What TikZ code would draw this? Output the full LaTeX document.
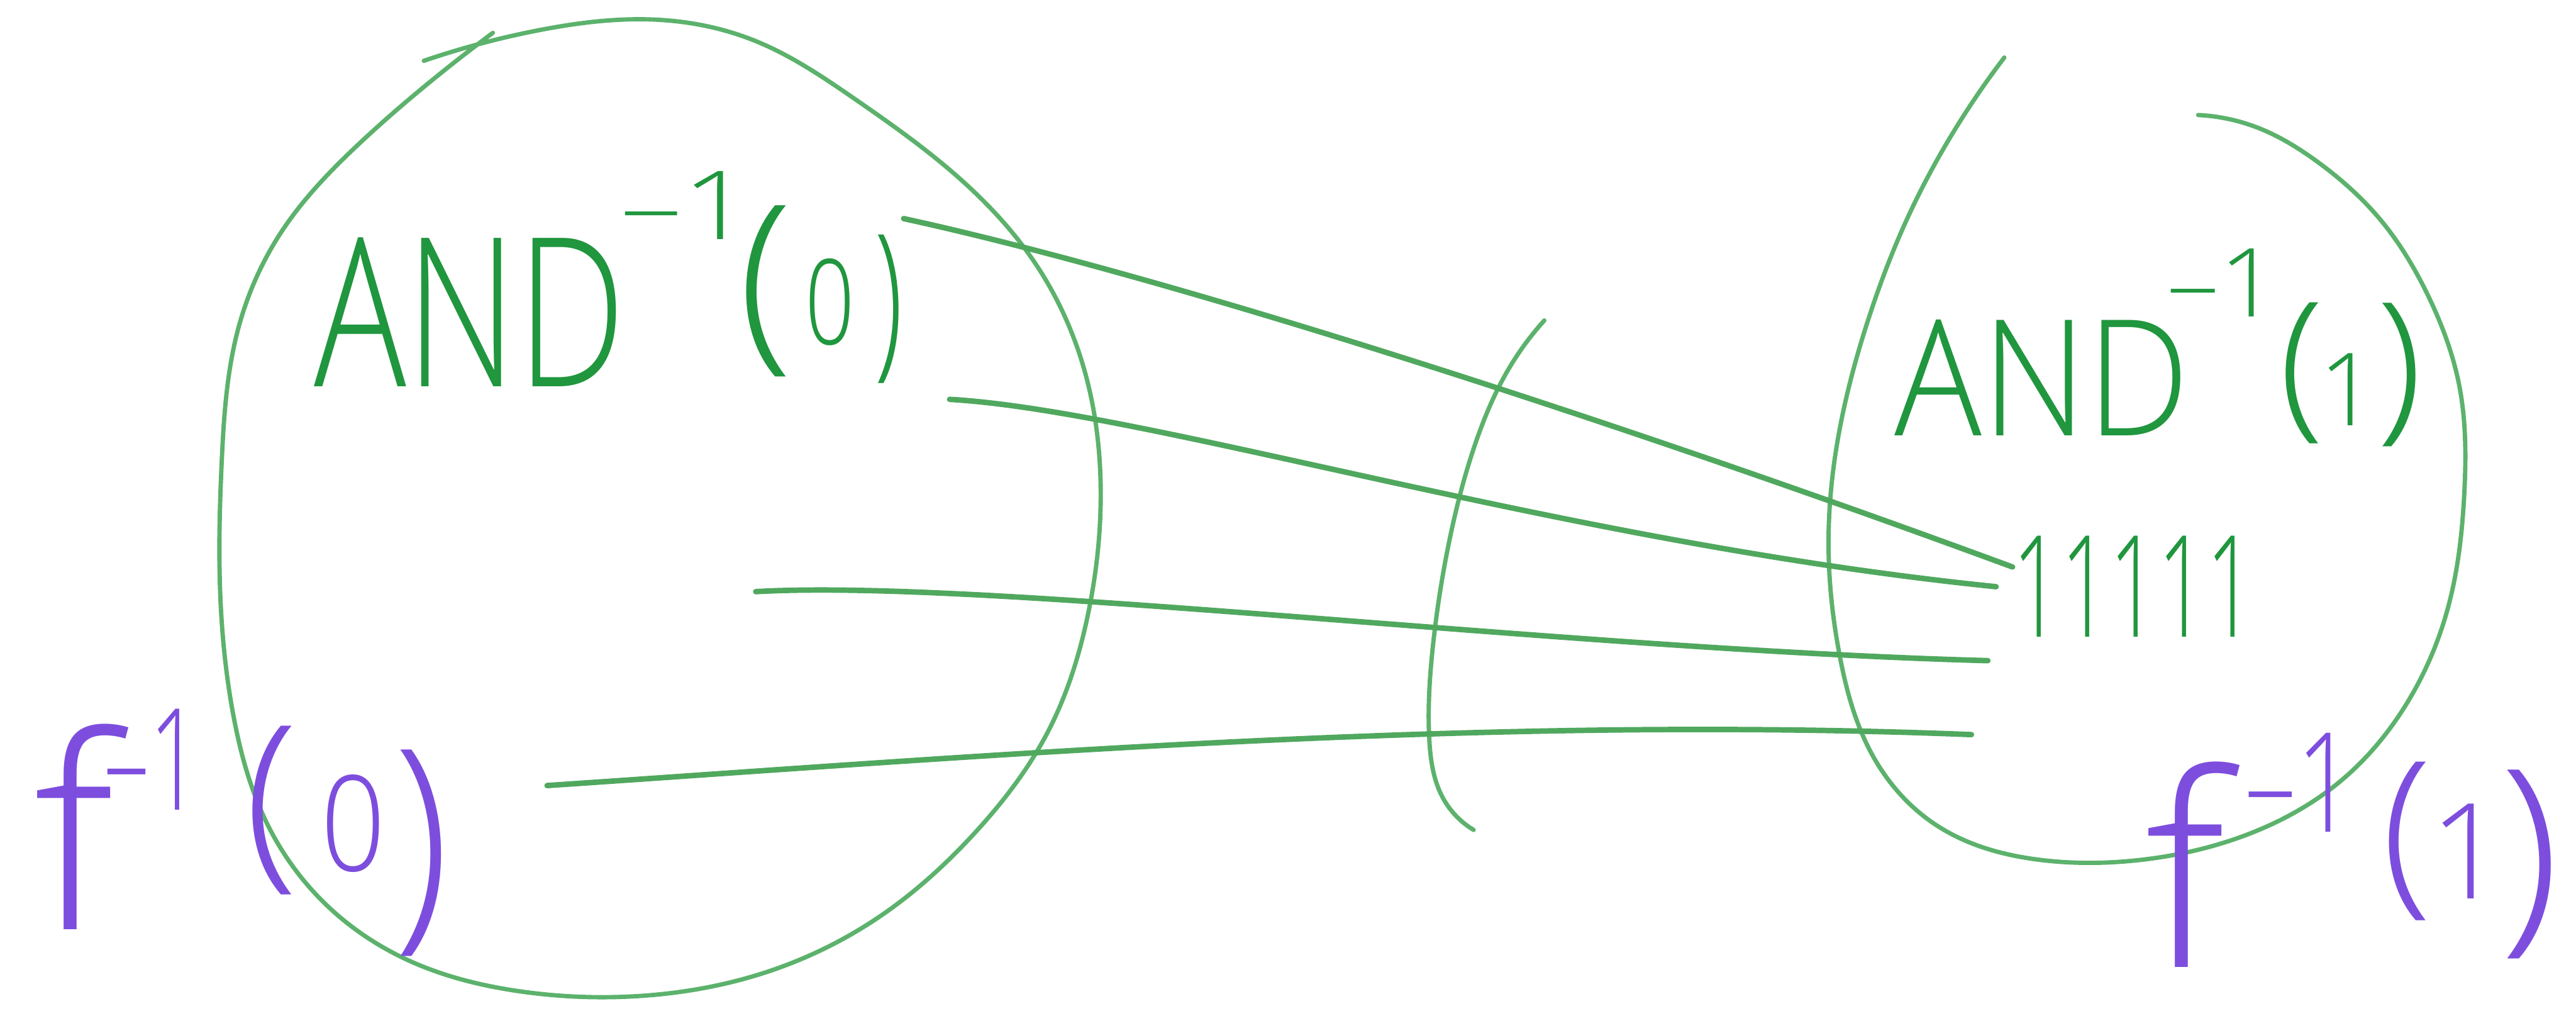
\documentclass[tikz,border=0pt]{standalone}
\usepackage{fontspec}
\setmainfont{Open Sans}
\newfontfamily\hand{Open Sans Light}
\usepackage{graphicx}
\usetikzlibrary{hobby}
\definecolor{blobc}{RGB}{92,178,108}
\definecolor{wirec}{RGB}{80,168,94}
\definecolor{textg}{RGB}{32,150,62}
\definecolor{purp}{RGB}{125,78,222}
\newcommand\fsz[1]{\hand\fontsize{#1}{#1}\selectfont}
\tikzset{
  blob/.style={draw=blobc, line width=1.5pt, line cap=round, line join=round, use Hobby shortcut},
  wire/.style={draw=wirec, line width=1.9pt, line cap=round},
  gt/.style={text=textg, inner sep=0pt, outer sep=0pt},
  pt/.style={text=purp, inner sep=0pt, outer sep=0pt},
}
\begin{document}
\begin{tikzpicture}[x=0.02cm,y=-0.02cm]
\useasboundingbox (0,0) rectangle (1568,615);
% left set
\draw[blob] (258,37) .. (330,18) .. (400,12) .. (460,25) .. (520,60) .. (580,105) .. (630,160) .. (660,225) .. (670,300) .. (662,375) .. (638,445) .. (595,505) .. (535,558) .. (465,592) .. (390,606) .. (315,603) .. (250,585) .. (198,550) .. (162,500) .. (142,435) .. (134,360) .. (135,280) .. (145,200) .. (172,140) .. (218,88) .. (264,48) .. (300,20);
% right set
\draw[blob] (1220,35) .. (1188,82) .. (1160,135) .. (1137,195) .. (1120,260) .. (1113,330) .. (1120,400) .. (1140,460) .. (1180,503) .. (1240,523) .. (1305,523) .. (1370,507) .. (1425,475) .. (1465,428) .. (1490,370) .. (1500,300) .. (1497,235) .. (1478,180) .. (1450,135) .. (1410,98) .. (1375,78) .. (1338,70);
% middle bracket
\draw[blob] (940,195) .. (918,225) .. (898,270) .. (882,330) .. (872,395) .. (870,450) .. (878,485) .. (897,505);
% texts
\node[gt, font=\fsz{72}] (andL) at (286,190) {\scalebox{0.74}[1]{AND}};
\node[gt, font=\fsz{33}] (supL) at (418,125) {\scalebox{1.3}[1]{–1}};
\node[gt, font=\fsz{68}] (lpL) at (466,177) {(};
\node[gt, font=\fsz{41}] (zeroL) at (505,184) {\scalebox{0.73}[1]{0}};
\node[gt, font=\fsz{59}] (rpL) at (541,188) {\scalebox{0.6}[1]{)}};
\node[gt, font=\fsz{56}] (andR) at (1243,230) {\scalebox{0.9}[1]{AND}};
\node[gt, font=\fsz{33}] (supR) at (1353,172) {\scalebox{1.1}[1]{–1}};
\node[gt, font=\fsz{56}] (lpR) at (1401,227) {(};
\node[gt, font=\fsz{35}] (oneR) at (1429,237) {1};
\node[gt, font=\fsz{57}] (rpR) at (1461,228) {)};
\node[gt, font=\fsz{49}] (ones) at (1299,357) {\scalebox{0.6}[1]{11111}};
\node[pt, font=\fsz{93}] (fL) at (45,503) {f};
\node[pt, font=\fsz{49}] (supfL) at (93,462) {\scalebox{0.64}[1]{–1}};
\node[pt, font=\fsz{67}] (lpfL) at (165,493) {(};
\node[pt, font=\fsz{46}] (zerofL) at (215,501) {\scalebox{0.85}[1]{0}};
\node[pt, font=\fsz{82}] (rpfL) at (257,519) {\scalebox{0.85}[1]{)}};
\node[pt, font=\fsz{93}] (fR) at (1330,526) {f};
\node[pt, font=\fsz{48}] (supfR) at (1400,476) {\scalebox{0.74}[1]{–1}};
\node[pt, font=\fsz{63}] (lpfR) at (1465,512) {(};
\node[pt, font=\fsz{46}] (onefR) at (1502,518) {1};
\node[pt, font=\fsz{75}] (rpfR) at (1540,526) {)};
% connector ends
\coordinate (s1) at (550,133);
\coordinate (e1) at (1225,345);
\coordinate (s2) at (578,243);
\coordinate (e2) at (1215,357);
\coordinate (s3) at (460,360);
\coordinate (e3) at (1210,402);
\coordinate (s4) at (333,478);
\coordinate (e4) at (1200,447);
\draw[wire] (s1) .. controls (720,170) and (1000,262) .. (e1);
\draw[wire] (s2) .. controls (700,250) and (950,330) .. (e2);
\draw[wire] (s3) .. controls (600,352) and (950,395) .. (e3);
\draw[wire] (s4) .. controls (600,460) and (900,435) .. (e4);
\end{tikzpicture}
\end{document}
